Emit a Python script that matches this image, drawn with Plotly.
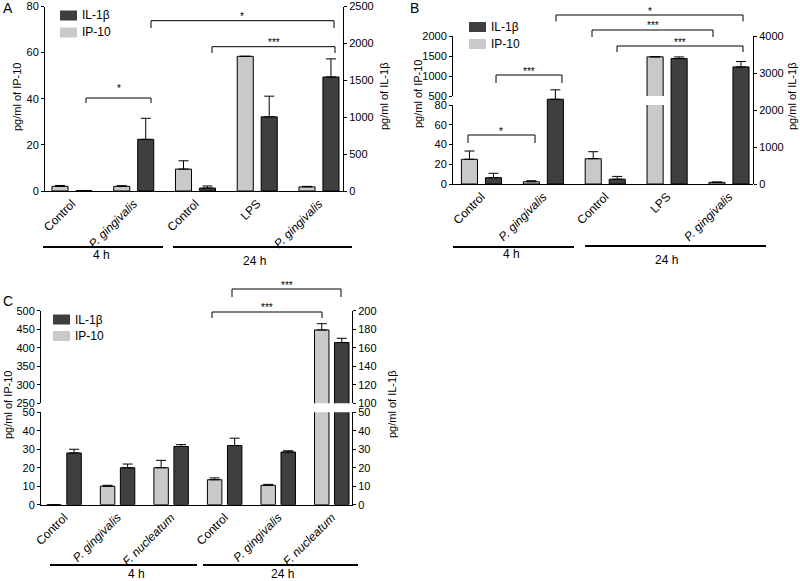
import plotly.graph_objects as go

W, H = 800, 581
DARK = "#3f3f3f"
LIGHT = "#c9c9c9"
FONT = "Arial, Liberation Sans, sans-serif"

# ---- panel A (4 h / 24 h, P. gingivalis + LPS) ----
a_labels = ["Control", "<i>P. gingivalis</i>", "Control", "LPS", "<i>P. gingivalis</i>"]
a_ip10 = [2.0, 2.0, 9.5, 58.4, 1.8]
a_ip10_err = [0.4, 0.3, 3.6, 0.0, 0.2]
a_il1b = [5, 700, 40, 1005, 1545]
a_il1b_err = [0, 285, 28, 280, 245]

# ---- panel B ----
b_labels = ["Control", "<i>P. gingivalis</i>", "Control", "LPS", "<i>P. gingivalis</i>"]
b_ip10 = [25.0, 2.3, 25.6, 1480, 1.7]
b_ip10_err = [8.4, 1.0, 7.1, 0.0, 0.3]
b_il1b = [170, 2290, 130, 3390, 3165]
b_il1b_err = [120, 255, 75, 45, 145]

# ---- panel C (P. gingivalis + F. nucleatum) ----
c_labels = ["Control", "<i>P. gingivalis</i>", "<i>F. nucleatum</i>"] * 2
c_ip10 = [0, 10.0, 20.0, 13.5, 10.5, 448]
c_ip10_err = [0, 0.5, 4.0, 1.0, 0.5, 17]
c_il1b = [28.0, 20.0, 31.5, 32.0, 28.5, 165.6]
c_il1b_err = [2.0, 2.0, 1.0, 4.0, 0.7, 4.6]


def px(x):
    return x / W


def py(y):
    return 1 - y / H


def bars(vals, errs, color, xa, ya, offset, width):
    return go.Bar(
        x=list(range(len(vals))), y=vals, xaxis=xa, yaxis=ya,
        offset=offset, width=width,
        marker=dict(color=color, line=dict(color="black", width=1)),
        error_y=dict(type="data", array=errs, arrayminus=[0] * len(errs),
                     symmetric=False, color="black", thickness=1, width=5),
        showlegend=False, hoverinfo="skip",
    )


fig = go.Figure()

# A
fig.add_trace(bars(a_ip10, a_ip10_err, LIGHT, "x", "y", -0.324, 0.26))
fig.add_trace(bars(a_il1b, a_il1b_err, DARK, "x", "y2", 0.064, 0.26))
# B: IP-10 on the broken left axis (lower + upper part), IL-1b on the right
fig.add_trace(bars(b_ip10, b_ip10_err, LIGHT, "x2", "y3", -0.324, 0.26))
fig.add_trace(bars(b_ip10, b_ip10_err, LIGHT, "x2", "y4", -0.324, 0.26))
fig.add_trace(bars(b_il1b, b_il1b_err, DARK, "x2", "y5", 0.064, 0.26))
# C: both axes broken
fig.add_trace(bars(c_ip10, c_ip10_err, LIGHT, "x3", "y6", -0.322, 0.27))
fig.add_trace(bars(c_ip10, c_ip10_err, LIGHT, "x3", "y7", -0.322, 0.27))
fig.add_trace(bars(c_il1b, c_il1b_err, DARK, "x3", "y8", 0.052, 0.27))
fig.add_trace(bars(c_il1b, c_il1b_err, DARK, "x3", "y9", 0.052, 0.27))

yax = dict(showline=True, linecolor="black", linewidth=1, showgrid=False,
           zeroline=False, ticks="outside", ticklen=3, tickcolor="black",
           tickfont=dict(size=11, color="black"), automargin=False, fixedrange=True)
xax = dict(showline=True, linecolor="black", linewidth=1, showgrid=False,
           zeroline=False, ticks="", tickangle=-45, automargin=False,
           tickfont=dict(size=12, color="black"), fixedrange=True)

fig.update_layout(
    template="none",
    width=W, height=H, margin=dict(l=0, r=0, t=0, b=0, autoexpand=False),
    paper_bgcolor="white", plot_bgcolor="rgba(0,0,0,0)",
    barmode="overlay", font=dict(family=FONT, color="black"),
    xaxis=dict(xax, domain=[px(45), px(343)], range=[-0.437, 4.389], anchor="y",
               tickvals=list(range(5)), ticktext=a_labels),
    yaxis=dict(yax, domain=[py(191), py(6.5)], range=[0, 80], dtick=20, anchor="x"),
    yaxis2=dict(yax, overlaying="y", side="right", range=[0, 2500], dtick=500, anchor="x"),
    xaxis2=dict(xax, domain=[px(453), px(753)], range=[-0.46, 4.388], anchor="y3",
                tickvals=list(range(5)), ticktext=b_labels),
    yaxis3=dict(yax, domain=[py(184), py(105)], range=[0, 80], dtick=20, anchor="x2"),
    yaxis4=dict(yax, domain=[py(96), py(36)], range=[500, 2000],
                tickvals=[500, 1000, 1500, 2000], anchor="x2"),
    yaxis5=dict(yax, domain=[py(184), py(36)], range=[0, 4000], dtick=1000,
                side="right", anchor="x2"),
    xaxis3=dict(xax, domain=[px(41), px(352)], range=[-0.43, 5.378], anchor="y6",
                tickvals=list(range(6)), ticktext=c_labels),
    yaxis6=dict(yax, domain=[py(504.7), py(412.3)], range=[0, 50], dtick=10, anchor="x3"),
    yaxis7=dict(yax, domain=[py(403.3), py(310.7)], range=[250, 500], dtick=50, anchor="x3"),
    yaxis8=dict(yax, overlaying="y6", side="right", range=[0, 50], dtick=10, anchor="x3"),
    yaxis9=dict(yax, overlaying="y7", side="right", range=[100, 200], dtick=20, anchor="x3"),
)


def line(x0, y0, x1, y1, width=1):
    fig.add_shape(type="line", xref="paper", yref="paper",
                  x0=px(x0), y0=py(y0), x1=px(x1), y1=py(y1),
                  line=dict(color="black", width=width))


def text(x, y, s, size=11.5, angle=0, xanchor="center", yanchor="middle"):
    fig.add_annotation(x=px(x), y=py(y), xref="paper", yref="paper", text=s,
                       showarrow=False, textangle=angle, xanchor=xanchor,
                       yanchor=yanchor, font=dict(size=size, color="black"))


def bracket(x0, x1, top, leg0, leg1, stars, sy):
    line(x0, leg0, x0, top)
    line(x0, top, x1, top)
    line(x1, top, x1, leg1)
    text((x0 + x1) / 2, sy, stars, size=10)


def legend(x, y_dark, y_light):
    for yy, col, name in [(y_dark, DARK, "IL-1β"), (y_light, LIGHT, "IP-10")]:
        fig.add_shape(type="rect", xref="paper", yref="paper",
                      x0=px(x), x1=px(x + 17), y0=py(yy + 5), y1=py(yy - 5),
                      fillcolor=col, line=dict(width=0))
        text(x + 20, yy, name, size=12, xanchor="left")


# panel letters
text(1, 8, "A", size=14, xanchor="left")
text(408, 8, "B", size=14, xanchor="left")
text(1, 301, "C", size=14, xanchor="left")

# axis titles
text(17, 97, "pg/ml of IP-10", size=11, angle=-90)
text(384, 97, "pg/ml of IL-1β", size=11, angle=-90)
text(418, 94, "pg/ml of IP-10", size=11, angle=-90)
text(792, 97, "pg/ml of IL-1β", size=11, angle=-90)
text(8, 405, "pg/ml of IP-10", size=11, angle=-90)
text(392, 405, "pg/ml of IL-1β", size=11, angle=-90)

# legends
legend(60, 15.5, 32.5)
legend(469, 27, 44)
legend(53, 319.5, 336)

# significance brackets
bracket(86, 151, 98, 103, 103, "*", 88)
bracket(151, 334, 20.7, 28, 28, "*", 16)
bracket(212, 335, 46.7, 53, 53, "***", 43)

bracket(468, 535, 135, 143, 143, "*", 131)
bracket(496, 562, 75, 83, 83, "***", 71)
bracket(556, 743, 15, 21.5, 21.5, "*", 11)
bracket(592, 713, 30, 37, 37, "***", 26)
bracket(617, 743, 46, 52, 52, "***", 42)

bracket(232, 341, 289, 297, 297, "***", 285)
bracket(212, 322, 312, 318, 318, "***", 307)

# time group lines
line(43, 247, 163, 247, 2)
line(173, 247, 352, 247, 2)
text(101, 255, "4 h", size=12)
text(255, 261, "24 h", size=12)

line(453, 247, 574, 247, 2)
line(585, 246, 766, 246, 2)
text(511, 254, "4 h", size=12)
text(666, 260, "24 h", size=12)

line(50, 565, 197, 565, 2)
line(203, 565, 358, 565, 2)
text(136, 574, "4 h", size=12)
text(282, 574, "24 h", size=12)

# the page body has a default 8px margin; drop it so the figure fills the window
fig.write_html("out.html", config={"displayModeBar": False},
               post_script="document.body.style.margin='0px';")
